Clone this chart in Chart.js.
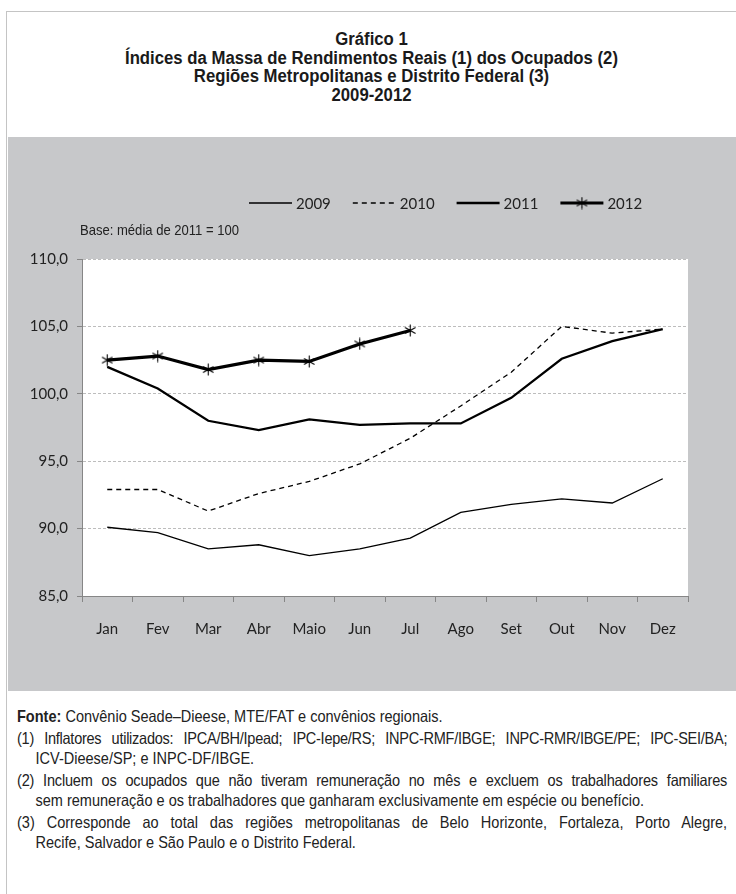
<!DOCTYPE html>
<html>
<head>
<meta charset="utf-8">
<script src="https://cdn.jsdelivr.net/npm/chart.js@4"></script>
<style>
body { margin: 0; background: #fff; width: 736px; height: 894px; overflow: hidden; position: relative;
       font-family: "Liberation Sans Narrow", "Arial Narrow", "Liberation Sans", sans-serif; color: #222; }
#frame { position: absolute; left: 6px; top: 11px; width: 740px; height: 900px;
         border-left: 1px solid #c4c4c4; border-top: 1px solid #c4c4c4; }
#title { position: absolute; left: 7px; width: 729px; top: 30px; text-align: center;
         font-weight: bold; font-size: 18px; line-height: 18.7px; color: #1a1a1a;
         transform: scaleX(0.93); transform-origin: 50% 0; }
#panel { position: absolute; left: 8px; top: 137px; width: 728px; height: 554px; background: #c7c8ca; }
#notes { position: absolute; left: 17px; top: 706px; width: 807px; font-size: 16.5px; line-height: 20px;
         transform: scaleX(0.88); transform-origin: 0 0; }
#notes div { white-space: nowrap; }
#notes .j { text-align: justify; text-align-last: justify; }
#notes .ind { padding-left: 21px; }
#notes .gap { margin-top: 2px; }
</style>
</head>
<body>
<div id="frame"></div>
<div id="title">
  Gráfico 1<br>
  Índices da Massa de Rendimentos Reais (1) dos Ocupados (2)<br>
  Regiões Metropolitanas e Distrito Federal (3)<br>
  2009-2012
</div>
<div id="panel"><canvas id="myChart" width="728" height="554"></canvas></div>
<div id="notes">
  <div><b>Fonte:</b> Convênio Seade–Dieese, MTE/FAT e convênios regionais.</div>
  <div class="j gap" style="letter-spacing:-0.3px">(1) Inflatores utilizados: IPCA/BH/Ipead; IPC-Iepe/RS; INPC-RMF/IBGE; INPC-RMR/IBGE/PE; IPC-SEI/BA;</div>
  <div class="ind">ICV-Dieese/SP; e INPC-DF/IBGE.</div>
  <div class="j gap" style="letter-spacing:-0.2px">(2) Incluem os ocupados que não tiveram remuneração no mês e excluem os trabalhadores familiares</div>
  <div class="ind">sem remuneração e os trabalhadores que ganharam exclusivamente em espécie ou benefício.</div>
  <div class="j gap">(3) Corresponde ao total das regiões metropolitanas de Belo Horizonte, Fortaleza, Porto Alegre,</div>
  <div class="ind">Recife, Salvador e São Paulo e o Distrito Federal.</div>
</div>
<script>
// months and index values (base: average of 2011 = 100)
var months = ["Jan", "Fev", "Mar", "Abr", "Maio", "Jun", "Jul", "Ago", "Set", "Out", "Nov", "Dez"];
var data2009 = [90.1, 89.7, 88.5, 88.8, 88.0, 88.5, 89.3, 91.2, 91.8, 92.2, 91.9, 93.7];
var data2010 = [92.9, 92.9, 91.3, 92.6, 93.5, 94.8, 96.7, 99.1, 101.6, 105.0, 104.5, 104.8];
var data2011 = [102.0, 100.4, 98.0, 97.3, 98.1, 97.7, 97.8, 97.8, 99.7, 102.6, 103.9, 104.8];
var data2012 = [102.5, 102.8, 101.8, 102.5, 102.4, 103.7, 104.7];
var yTicks = [85, 90, 95, 100, 105, 110];

// asterisk marker like the original
function makeAsterisk(size) {
    var c = document.createElement('canvas');
    c.width = c.height = size;
    var g = c.getContext('2d');
    g.strokeStyle = '#000';
    g.lineWidth = 1.1;
    var r = size / 2 - 0.5, m = size / 2;
    [90, 30, -30].forEach(function (a) {
        var rad = a * Math.PI / 180;
        g.beginPath();
        g.moveTo(m - r * Math.cos(rad), m - r * Math.sin(rad));
        g.lineTo(m + r * Math.cos(rad), m + r * Math.sin(rad));
        g.stroke();
    });
    return c;
}
var asterisk = makeAsterisk(13);

var whiteArea = {
    id: 'whiteArea',
    beforeDraw: function (chart) {
        var a = chart.chartArea, ctx = chart.ctx;
        ctx.save();
        ctx.fillStyle = '#fff';
        ctx.fillRect(a.left, a.top, a.right - a.left, a.bottom - a.top);
        ctx.restore();
    }
};

var lineLegend = {
    id: 'lineLegend',
    afterDraw: function (chart) {
        var ctx = chart.ctx;
        ctx.save();
        ctx.font = '15px Lato';
        ctx.textBaseline = 'middle';
        var x = 241, y = 66;
        chart.data.datasets.forEach(function (ds) {
            ctx.strokeStyle = ds.borderColor;
            ctx.lineWidth = ds.borderWidth;
            ctx.setLineDash(ds.borderDash || []);
            ctx.beginPath();
            ctx.moveTo(x, y);
            ctx.lineTo(x + 43, y);
            ctx.stroke();
            ctx.setLineDash([]);
            if (ds.pointStyle instanceof HTMLCanvasElement) {
                ctx.drawImage(ds.pointStyle, x + 21.5 - ds.pointStyle.width / 2, y - ds.pointStyle.height / 2);
            }
            ctx.fillStyle = '#222';
            ctx.fillText(ds.label, x + 47, y + 1);
            x += 47 + ctx.measureText(ds.label).width + 22;
        });
        // base note, narrowed like the original font
        ctx.font = '14.5px "Liberation Sans", sans-serif';
        ctx.translate(72, 94);
        ctx.scale(0.9, 1);
        ctx.fillText('Base: média de 2011 = 100', 0, 0);
        ctx.restore();
    }
};

var ctx = document.getElementById('myChart').getContext('2d');
var myChart = new Chart(ctx, {
    type: 'line',
    data: {
        labels: months,
        datasets: [{
            label: '2009',
            data: data2009,
            borderColor: '#000',
            borderWidth: 1.3,
            pointRadius: 0,
            order: 3
        }, {
            label: '2010',
            data: data2010,
            borderColor: '#000',
            borderWidth: 1.3,
            borderDash: [5, 4],
            pointRadius: 0,
            order: 2
        }, {
            label: '2011',
            data: data2011,
            borderColor: '#000',
            borderWidth: 2.3,
            pointRadius: 0,
            order: 1
        }, {
            label: '2012',
            data: data2012,
            borderColor: '#000',
            borderWidth: 3.2,
            pointStyle: asterisk,
            pointRadius: 6,
            order: 0
        }]
    },
    options: {
        responsive: false,
        animation: false,
        layout: { padding: { left: 0, right: 48, top: 122, bottom: 0 } },
        plugins: { legend: { display: false }, title: { display: false }, tooltip: { enabled: false } },
        elements: { line: { tension: 0 } },
        scales: {
            x: {
                offset: true,
                grid: { display: true, drawOnChartArea: false, offset: true, tickLength: 6, tickColor: '#868686' },
                border: { color: '#868686' },
                ticks: { color: '#222', font: { family: 'Lato', size: 15 }, padding: 18, maxRotation: 0, autoSkip: false },
                afterFit: function (scale) { scale.height = 95; }
            },
            y: {
                min: yTicks[0],
                max: yTicks[yTicks.length - 1],
                afterBuildTicks: function (scale) { scale.ticks = yTicks.map(function (v) { return { value: v }; }); },
                grid: {
                    color: function (c) { return c.tick && c.tick.value === 85 ? 'rgba(0,0,0,0)' : '#bdbdbd'; },
                    tickColor: '#868686',
                    tickLength: 5,
                    lineWidth: 1
                },
                border: { color: '#868686', dash: [3, 2] },
                ticks: {
                    color: '#222',
                    font: { family: 'Lato', size: 15 },
                    padding: 9,
                    callback: function (v) { return v.toFixed(1).replace('.', ','); }
                },
                afterFit: function (scale) { scale.width = 74; }
            }
        }
    },
    plugins: [whiteArea, lineLegend]
});
</script>
</body>
</html>
